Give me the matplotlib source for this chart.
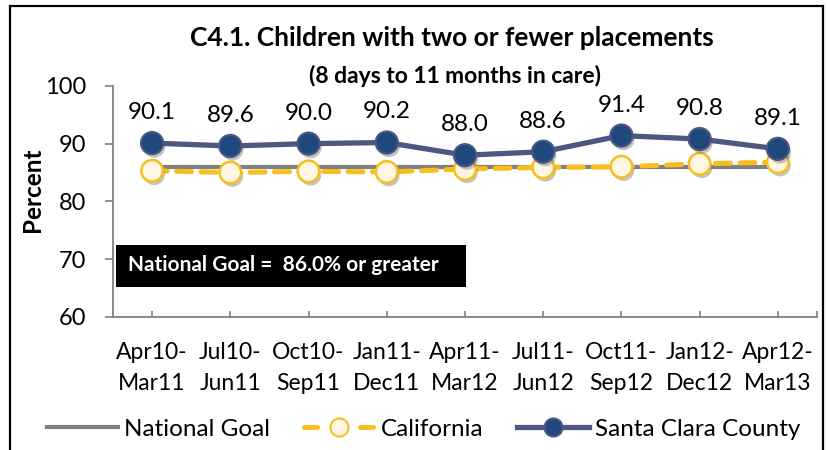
import matplotlib
matplotlib.use("Agg")
import matplotlib.pyplot as plt
import matplotlib.patheffects as pe
from matplotlib.patches import Rectangle

plt.rcParams['font.family'] = ['Lato', 'DejaVu Sans']

# Reporting periods (two-line category labels)
periods = ['Apr10-\nMar11', 'Jul10-\nJun11', 'Oct10-\nSep11', 'Jan11-\nDec11',
           'Apr11-\nMar12', 'Jul11-\nJun12', 'Oct11-\nSep12', 'Jan12-\nDec12',
           'Apr12-\nMar13']

# Percent of children with two or fewer placements
national_goal = [86.0, 86.0, 86.0, 86.0, 86.0, 86.0, 86.0, 86.0, 86.0]
california = [85.3, 85.0, 85.2, 85.1, 85.6, 85.9, 86.0, 86.5, 86.8]
santa_clara = [90.1, 89.6, 90.0, 90.2, 88.0, 88.6, 91.4, 90.8, 89.1]

x = list(range(len(periods)))

fig = plt.figure(figsize=(8.27, 4.5), dpi=100)
ax = fig.add_axes([0.1366, 0.2962, 0.8513, 0.5127])

shadow = [pe.SimplePatchShadow(offset=(1.5, -2.5), shadow_rgbFace='#555555', alpha=0.35), pe.Normal()]

# National goal line
ax.plot(x, national_goal, color='#808080', lw=3.0, solid_capstyle='butt', zorder=2)

# California: dashed gold line with cream markers
ca_line, = ax.plot(x, california, color='#F7BE1E', lw=3.6, zorder=3,
                   dash_capstyle='round')
ca_line.set_dashes((3.0, 1.9))
ax.plot(x, california, ls='none', marker='o', ms=15.5, mfc='#FFF7E4', mec='#F7BE1E',
        mew=1.8, zorder=3.5, path_effects=shadow)

# Santa Clara County: slate line with dark blue markers
ax.plot(x, santa_clara, color='#4E5781', lw=3.8, zorder=4, solid_capstyle='round')
ax.plot(x, santa_clara, ls='none', marker='o', ms=16, mfc='#1F487C', mec='#4E5781',
        mew=1.5, zorder=4.5, path_effects=shadow)

# Value labels above the county points
for xi, v in zip(x, santa_clara):
    ax.annotate(f'{v:.1f}', (xi, v), xytext=(0, 22), textcoords='offset points',
                ha='center', va='center', fontsize=17.5)

ax.set_xlim(-0.5, 8.5)
ax.set_ylim(60, 100)
ax.set_yticks([60, 70, 80, 90, 100])
ax.set_xticks(x)
ax.set_xticklabels(periods, fontsize=16.5, linespacing=1.6)
ax.set_xticks([8.5], minor=True)
ax.tick_params(axis='y', labelsize=17, direction='out', length=6, width=1.2,
               color='#808080', pad=13)
ax.tick_params(axis='x', which='both', direction='in', length=4, width=1.2,
               color='#808080', pad=18)
for side in ['top', 'right']:
    ax.spines[side].set_visible(False)
for side in ['left', 'bottom']:
    ax.spines[side].set_color('#808080')
    ax.spines[side].set_linewidth(1.3)

ax.set_ylabel('Percent', fontsize=17.5, fontweight='bold', va='center')
ax.yaxis.set_label_coords(-0.1136, 0.549)

# Goal annotation box
ax.add_patch(Rectangle((0.004, 0.129), 0.497, 0.182, transform=ax.transAxes,
                       fc='black', ec='none', zorder=5))
ax.text(0.021, 0.222, 'National Goal =  86.0% or greater', transform=ax.transAxes,
        fontsize=15, fontweight='bold', color='white', va='center', ha='left', zorder=6)

# Titles
fig.text(0.547, 0.898, 'C4.1. Children with two or fewer placements', fontsize=19,
         fontweight='bold', ha='center', va='baseline')
fig.text(0.550, 0.816, '(8 days to 11 months in care)', fontsize=16.5,
         fontweight='bold', ha='center', va='baseline')

# Legend entries
h1 = plt.Line2D([], [], color='#808080', lw=3.0)
h2 = plt.Line2D([], [], color='#F7BE1E', lw=3.6, ls=(0, (2.6, 8.6)), marker='o', ms=13,
                mfc='#FFF7E4', mec='#F7BE1E', mew=1.5, dash_capstyle='round')
h3 = plt.Line2D([], [], color='#4E5781', lw=3.8, marker='o', ms=13, mfc='#1F487C',
                mec='#4E5781', mew=1.5)
fig.legend([h1, h2, h3], ['National Goal', 'California', 'Santa Clara County'],
           loc='center', bbox_to_anchor=(0.512, 0.046), ncol=3, frameon=False,
           fontsize=17.5, handlelength=2.95, handletextpad=0.25, columnspacing=1.36)

# Outer chart frame
fig.patches.append(Rectangle((10 / 827, -0.1), 813 / 827, 1.1 - 6 / 450,
                             transform=fig.transFigure, fill=False, ec='black',
                             lw=1.6, zorder=10))

fig.savefig('out.png', dpi=100)
